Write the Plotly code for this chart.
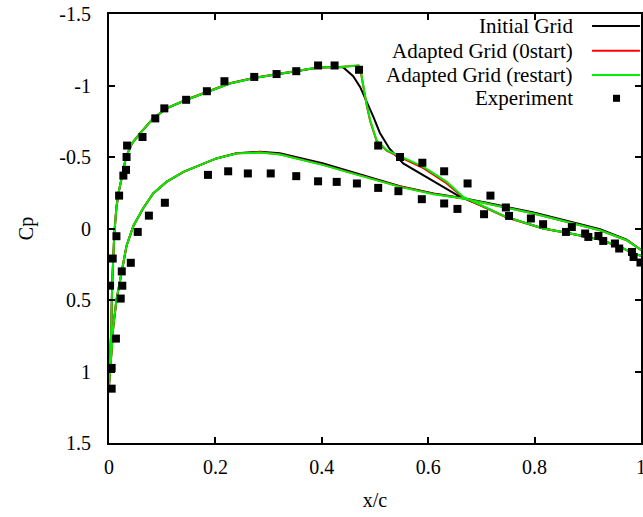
import plotly.graph_objects as go

# ---------------- data ----------------
# Adapted Grid (restart) - green
rs_up_x = [0.0, 0.001, 0.004, 0.006, 0.010, 0.014, 0.018, 0.024, 0.032, 0.043, 0.058, 0.083, 0.108, 0.146,
           0.184, 0.227, 0.273, 0.315, 0.352, 0.393, 0.434, 0.469, 0.474, 0.480, 0.484, 0.491, 0.503, 0.522,
           0.547, 0.591, 0.635, 0.666, 0.700, 0.747, 0.816, 0.860, 0.923, 0.961, 0.986, 1.0]
rs_up_cp = [1.10, 1.00, 0.73, 0.385, 0.035, -0.15, -0.25, -0.36, -0.50, -0.594, -0.664, -0.77, -0.84, -0.90,
            -0.955, -1.014, -1.053, -1.079, -1.10, -1.126, -1.13, -1.14, -1.084, -0.967, -0.874, -0.757, -0.617,
            -0.548, -0.506, -0.431, -0.326, -0.221, -0.16, -0.08, 0.0, 0.03, 0.077, 0.129, 0.175, 0.19]
rs_lo_x = [0.0, 0.003, 0.008, 0.014, 0.024, 0.033, 0.046, 0.064, 0.083, 0.108, 0.14, 0.171, 0.202, 0.24,
           0.284, 0.321, 0.359, 0.403, 0.447, 0.491, 0.528, 0.547, 0.61, 0.666, 0.71, 0.747, 0.798, 0.86,
           0.923, 0.973, 1.0]
rs_lo_cp = [1.10, 0.95, 0.688, 0.50, 0.29, 0.12, -0.02, -0.14, -0.245, -0.326, -0.396, -0.443, -0.49, -0.524,
            -0.531, -0.517, -0.483, -0.443, -0.396, -0.35, -0.315, -0.291, -0.24, -0.21, -0.175, -0.147, -0.105,
            -0.047, 0.012, 0.082, 0.15]

# Adapted Grid (0start) - red
os_up_x = [0.0, 0.001, 0.004, 0.006, 0.010, 0.014, 0.018, 0.024, 0.032, 0.043, 0.058, 0.083, 0.108, 0.146,
           0.184, 0.227, 0.273, 0.315, 0.352, 0.393, 0.434, 0.469, 0.474, 0.480, 0.484, 0.491, 0.503, 0.522,
           0.547, 0.591, 0.635, 0.666, 0.700, 0.747, 0.816, 0.860, 0.923, 0.961, 0.986, 1.0]
os_up_cp = [1.10, 1.00, 0.73, 0.385, 0.035, -0.15, -0.25, -0.36, -0.50, -0.594, -0.664, -0.77, -0.84, -0.902,
            -0.958, -1.016, -1.055, -1.080, -1.10, -1.126, -1.13, -1.14, -1.080, -0.960, -0.868, -0.750, -0.612,
            -0.545, -0.500, -0.422, -0.315, -0.215, -0.157, -0.078, 0.0, 0.03, 0.077, 0.129, 0.175, 0.19]
os_lo_x = rs_lo_x
os_lo_cp = [1.10, 0.95, 0.688, 0.50, 0.29, 0.12, -0.02, -0.14, -0.245, -0.326, -0.396, -0.443, -0.49, -0.526,
            -0.533, -0.519, -0.485, -0.445, -0.398, -0.352, -0.317, -0.293, -0.242, -0.21, -0.175, -0.147,
            -0.105, -0.047, 0.012, 0.082, 0.15]

# Initial Grid - black
in_up_x = [0.0, 0.001, 0.004, 0.006, 0.010, 0.014, 0.018, 0.024, 0.032, 0.043, 0.058, 0.083, 0.108, 0.146,
           0.184, 0.227, 0.273, 0.315, 0.352, 0.393, 0.434, 0.440, 0.447, 0.459, 0.472, 0.484, 0.497, 0.509,
           0.527, 0.553, 0.591, 0.628, 0.660, 0.700, 0.747, 0.816, 0.860, 0.923, 0.961, 0.986, 1.0]
in_up_cp = [1.10, 1.00, 0.73, 0.385, 0.035, -0.15, -0.25, -0.36, -0.50, -0.594, -0.664, -0.77, -0.84, -0.90,
            -0.955, -1.014, -1.053, -1.079, -1.10, -1.126, -1.13, -1.128, -1.107, -1.065, -0.99, -0.885, -0.78,
            -0.67, -0.56, -0.455, -0.373, -0.291, -0.221, -0.16, -0.08, 0.0, 0.03, 0.077, 0.129, 0.175, 0.19]
in_lo_x = rs_lo_x
in_lo_cp = [1.10, 0.95, 0.688, 0.50, 0.29, 0.12, -0.02, -0.14, -0.245, -0.326, -0.396, -0.443, -0.49, -0.526,
            -0.536, -0.527, -0.495, -0.455, -0.406, -0.358, -0.32, -0.296, -0.245, -0.212, -0.18, -0.152,
            -0.112, -0.055, 0.005, 0.078, 0.15]

# Experiment
exp_up_x = [0.005, 0.005, 0.013, 0.002, 0.007, 0.014, 0.019, 0.027, 0.032, 0.033, 0.034, 0.063, 0.087, 0.104,
            0.145, 0.184, 0.217, 0.273, 0.315, 0.352, 0.393, 0.424, 0.470, 0.506, 0.547, 0.589, 0.630, 0.674,
            0.717, 0.746, 0.793, 0.816, 0.870, 0.895, 0.920, 0.951, 0.983]
exp_up_cp = [1.12, 0.975, 0.77, 0.40, 0.21, 0.054, -0.23, -0.37, -0.41, -0.50, -0.58, -0.64, -0.77, -0.84,
             -0.90, -0.96, -1.03, -1.06, -1.08, -1.10, -1.14, -1.14, -1.11, -0.58, -0.50, -0.46, -0.40, -0.315,
             -0.23, -0.147, -0.07, -0.03, -0.01, 0.035, 0.052, 0.105, 0.164]
exp_lo_x = [0.022, 0.025, 0.024, 0.041, 0.054, 0.075, 0.105, 0.186, 0.224, 0.261, 0.304, 0.352, 0.393, 0.428,
            0.466, 0.506, 0.544, 0.588, 0.630, 0.655, 0.705, 0.752, 0.859, 0.901, 0.929, 0.959, 0.986, 0.999]
exp_lo_cp = [0.49, 0.40, 0.30, 0.24, 0.024, -0.09, -0.18, -0.375, -0.40, -0.385, -0.385, -0.366, -0.33, -0.326,
             -0.315, -0.284, -0.261, -0.205, -0.175, -0.137, -0.10, -0.088, 0.024, 0.059, 0.087, 0.140, 0.199,
             0.238]

x_tick_vals = [0, 0.2, 0.4, 0.6, 0.8, 1]
x_tick_text = ["0", "0.2", "0.4", "0.6", "0.8", "1"]
y_tick_vals = [-1.5, -1, -0.5, 0, 0.5, 1, 1.5]
y_tick_text = ["-1.5", "-1", "-0.5", "0", "0.5", "1", "1.5"]

legend_names = ["Initial Grid", "Adapted Grid (0start)", "Adapted Grid (restart)", "Experiment"]
line_colors = ["#000000", "#ff0000", "#00ee00"]

# ---------------- figure ----------------
FONT = "Liberation Serif, Times New Roman, serif"
fig = go.Figure()

curves = [(in_up_x, in_up_cp, in_lo_x, in_lo_cp),
          (os_up_x, os_up_cp, os_lo_x, os_lo_cp),
          (rs_up_x, rs_up_cp, rs_lo_x, rs_lo_cp)]
for (ux, ucp, lx, lcp), name, col in zip(curves, legend_names[:3], line_colors):
    fig.add_trace(go.Scatter(x=ux[::-1] + lx, y=ucp[::-1] + lcp, mode="lines", name=name,
                             line=dict(color=col, width=2), showlegend=False))

fig.add_trace(go.Scatter(x=exp_up_x + exp_lo_x, y=exp_up_cp + exp_lo_cp, mode="markers",
                         name=legend_names[3], showlegend=False,
                         marker=dict(symbol="square", size=8, color="black", line=dict(width=0))))

# legend (gnuplot style: text right-aligned, sample on the right)
leg_y = [0.972, 0.9145, 0.858, 0.8035]
for i, name in enumerate(legend_names):
    fig.add_annotation(x=0.876, y=leg_y[i], xref="paper", yref="paper", text=name, showarrow=False,
                       xanchor="right", yanchor="middle", font=dict(family=FONT, size=21, color="black"))
for i in range(3):
    fig.add_shape(type="line", xref="paper", yref="paper", x0=0.908, x1=0.998, y0=leg_y[i], y1=leg_y[i],
                  line=dict(color=line_colors[i], width=2))
fig.add_shape(type="rect", xref="paper", yref="paper", x0=0.954 - 0.0066, x1=0.954 + 0.0066,
              y0=leg_y[3] - 0.0082, y1=leg_y[3] + 0.0082, fillcolor="black", line=dict(width=0))

axis_common = dict(showline=True, linecolor="black", linewidth=2, mirror="ticks", ticks="inside",
                   ticklen=6, tickwidth=1.5, tickcolor="black", showgrid=False, zeroline=False,
                   tickfont=dict(family=FONT, size=20, color="black"), automargin=False,
                   ticklabeloverflow="allow")

fig.update_layout(
    width=643, height=517,
    margin=dict(l=109, r=2, t=14, b=74, autoexpand=False),
    paper_bgcolor="white", plot_bgcolor="white",
    showlegend=False,
    xaxis=dict(range=[0, 1], tickvals=x_tick_vals, ticktext=x_tick_text, ticklabelstandoff=5,
               title=dict(text="x/c", font=dict(family=FONT, size=20, color="black"), standoff=16),
               **axis_common),
    yaxis=dict(range=[1.5, -1.5], tickvals=y_tick_vals, ticktext=y_tick_text, ticklabelstandoff=12,
               title=dict(text="Cp", font=dict(family=FONT, size=20, color="black"), standoff=20),
               **axis_common),
)

fig.write_html("out.html")
